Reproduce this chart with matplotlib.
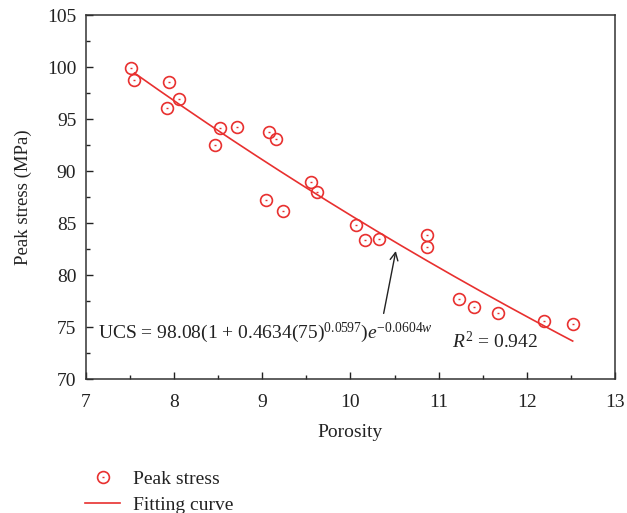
import numpy as np
import matplotlib
matplotlib.use("Agg")
import matplotlib.pyplot as plt
from matplotlib.ticker import MultipleLocator
from matplotlib.legend_handler import HandlerTuple

plt.rcParams['font.family'] = ['Liberation Serif', 'DejaVu Serif']
plt.rcParams['mathtext.fontset'] = 'custom'
plt.rcParams['mathtext.rm'] = 'Liberation Serif'
plt.rcParams['mathtext.it'] = 'Liberation Serif:italic'
plt.rcParams['mathtext.bf'] = 'Liberation Serif:bold'

porosity = [7.51, 7.55, 7.94, 8.05, 7.92, 8.52, 8.71, 8.46, 9.07, 9.15, 9.55, 9.62,
            9.04, 9.24, 10.06, 10.16, 10.32, 10.87, 10.87, 11.23, 11.40, 11.67, 12.20, 12.52]
peak_stress = [99.90, 98.77, 98.55, 96.92, 96.11, 94.18, 94.28, 92.52, 93.80, 93.10, 88.96, 88.03,
               87.20, 86.20, 84.82, 83.38, 83.44, 83.83, 82.70, 77.70, 76.93, 76.32, 75.55, 75.29]

# fitted model constants (from the equation shown on the chart)
A, B, C, K, D = 98.08, 0.4634, 75, 0.0597, 0.0604
fit_x = np.linspace(7.55, 12.52, 200)
fit_y = A * (1 + B * C ** K) * np.exp(-D * fit_x)

red = '#e8302f'
dark = '#222222'
fig = plt.figure(figsize=(6.27, 5.13), dpi=100)
ax = fig.add_axes([86/627, 1-379/513, (615-86)/627, (379-15.3)/513])

line, = ax.plot(fit_x, fit_y, color=red, lw=1.2, zorder=2)
circ, = ax.plot(porosity, peak_stress, ls='none', marker='o', ms=8.5, mfc='none',
                mec=red, mew=1.2, zorder=3)
dot, = ax.plot(porosity, peak_stress, ls='none', marker='_', ms=1.6, mec=red, mew=1.0, zorder=4)

ax.set_xlim(7, 13)
ax.set_ylim(70, 105)
ax.xaxis.set_major_locator(MultipleLocator(1))
ax.xaxis.set_minor_locator(MultipleLocator(0.5))
ax.yaxis.set_major_locator(MultipleLocator(5))
ax.yaxis.set_minor_locator(MultipleLocator(2.5))
ax.tick_params(which='both', direction='in', top=False, right=False, labelsize=14, colors=dark)
ax.tick_params(axis='x', which='major', pad=10.5)
ax.tick_params(axis='y', which='major', pad=7)
ax.tick_params(which='major', length=5, width=1)
ax.tick_params(which='minor', length=3, width=1)
for s in ax.spines.values():
    s.set_color('#333333')
    s.set_linewidth(1.1)

ax.set_xlabel('Porosity', fontsize=14, color=dark, labelpad=10)
ax.set_ylabel('Peak stress (MPa)', fontsize=13.5, color=dark, labelpad=11)

ax.text(7.136, 74.43, r'UCS = 98.08(1 + 0.4634(75)$^{0.0597}$)$e^{-0.0604w}$',
        fontsize=14, color=dark, va='center', ha='left')
ax.text(11.15, 73.6, r'$R^2$ = 0.942', fontsize=14, color=dark, va='center', ha='left')

ax.annotate('', xy=(10.52, 82.58), xytext=(10.37, 76.05),
            arrowprops=dict(arrowstyle='->', color=dark, lw=1.0, mutation_scale=14))

leg = fig.legend([(circ, dot), line], ['Peak stress', 'Fitting curve'],
                 handler_map={tuple: HandlerTuple(ndivide=1, pad=0)},
                 loc='upper left', bbox_to_anchor=(85/627, 1-470/513),
                 frameon=False, fontsize=14, handlelength=1.8, handletextpad=0.65,
                 labelspacing=0.45, borderaxespad=0, borderpad=0)
for t in leg.get_texts():
    t.set_color(dark)

fig.savefig('out.png', dpi=100)
